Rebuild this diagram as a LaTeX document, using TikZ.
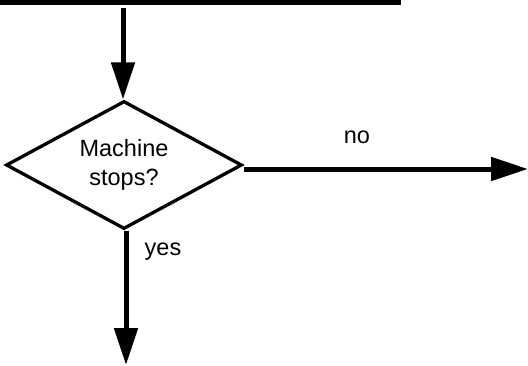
\documentclass[tikz,border=0pt]{standalone}
\usepackage{fontspec}
\setmainfont{Liberation Sans}
\usetikzlibrary{shapes.geometric,arrows.meta}
\tikzset{
  decision/.style={diamond, aspect=1.84, draw, line width=3.3pt, minimum width=236pt, minimum height=128pt, inner sep=0pt, align=center, font=\fontsize{23.5}{29.5}\selectfont},
  flow/.style={line width=5pt, -{Triangle[length=37pt,width=23pt]}},
  lbl/.style={font=\fontsize{23.5}{29.5}\selectfont, inner sep=0pt},
  bar/.style={line width=5.5pt}
}
\begin{document}
\begin{tikzpicture}[x=1pt,y=-1pt]
\useasboundingbox (0,0) rectangle (528,365);
\coordinate (tl) at (0,2.5);
\coordinate (tr) at (401,2.5);
\draw[bar] (tl) -- (tr);
\node[decision] (dec) at (124,165) {\raisebox{-3.5pt}{\begin{tabular}{@{}c@{}}Machine\\stops?\end{tabular}}};
\coordinate (topstart) at (123,8);
\coordinate (noend) at (528,169);
\coordinate (yesend) at (126,365);
\draw[flow] (topstart) -- (topstart |- dec.north);
\draw[flow] (dec.east |- noend) -- (noend);
\draw[flow] (dec.south -| yesend) -- (yesend);
\node[lbl] (no) at (357,137) {no};
\node[lbl] (yes) at (163,252) {yes};
\end{tikzpicture}
\end{document}
